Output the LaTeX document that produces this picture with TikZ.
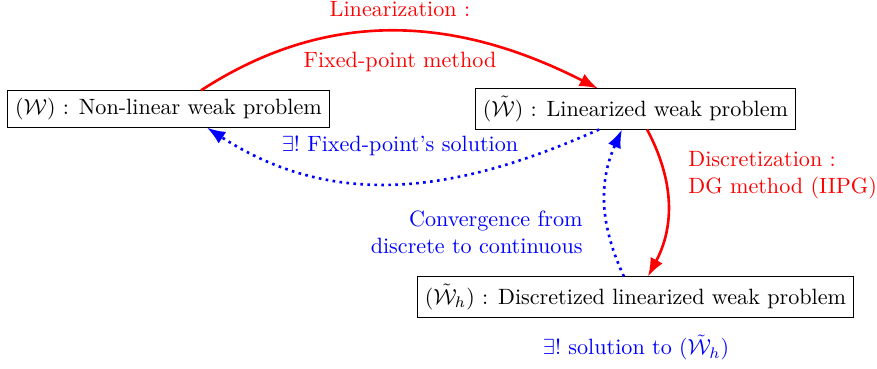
\documentclass[tikz,border=0pt]{standalone}
\usepackage{amssymb}
\usetikzlibrary{arrows.meta}
\begin{document}
\begin{tikzpicture}[x=0.4577pt,y=-0.4577pt,
  every node/.style={font=\fontsize{10.13pt}{12.36pt}\selectfont},
  probbox/.style={draw,thin,inner sep=3.33pt},
  redarrow/.style={red,line width=1.2pt,-{Latex}},
  bluearrow/.style={blue,line width=1.2pt,dotted,-{Latex}},
  redlabel/.style={text=red,inner sep=0pt},
  bluelabel/.style={text=blue,inner sep=0pt}]
\useasboundingbox (0,0) rectangle (877,369);
\node[probbox] (w) at (168.5,109) {$(\mathcal{W})$ : Non-linear weak problem};
\node[probbox] (wt) at (635.5,109) {$(\tilde{\mathcal{W}})$ : Linearized weak problem};
\node[probbox] (wh) at (635.5,297) {$(\tilde{\mathcal{W}}_h)$ : Discretized linearized weak problem};

\draw[redarrow] ([xshift=14.9pt]w.north) to[out=33,in=153] ([xshift=-17.2pt]wt.north);
\draw[bluearrow] ([xshift=-16.7pt]wt.south) to[out=-156,in=-33] ([xshift=17.6pt]w.south);
\draw[redarrow] ([xshift=5.3pt]wt.south) to[out=-62,in=62] ([xshift=5.7pt]wh.north);
\draw[bluearrow] ([xshift=-5.3pt]wh.north) to[out=115,in=-114] ([xshift=-6.2pt]wt.south);

\node[redlabel,anchor=base] (l1) at (400,16.5) {Linearization :};
\node[redlabel,anchor=base] (l2) at (400,68) {Fixed-point method};
\node[bluelabel,anchor=base] (l3) at (400,152) {$\exists!$ Fixed-point's solution};
\node[redlabel,anchor=west,align=left] (l4) at (688,175) {Discretization :\\DG method (IIPG)};
\node[bluelabel,anchor=east,align=right] (l5) at (583,232.5) {Convergence from\\discrete to continuous};
\node[bluelabel,anchor=base] (l6) at (636,355) {$\exists!$ solution to $(\tilde{\mathcal{W}}_h)$};
\end{tikzpicture}
\end{document}
